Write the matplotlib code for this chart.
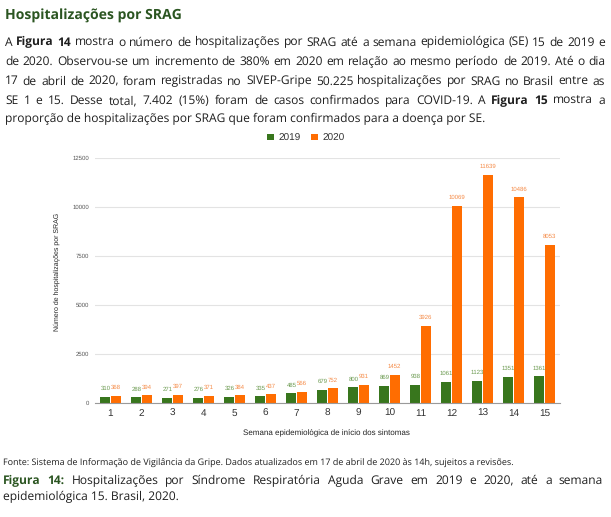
import numpy as np
import matplotlib
matplotlib.use("Agg")
import matplotlib.pyplot as plt

plt.rcParams["text.hinting"] = "no_hinting"
plt.rcParams["text.hinting_factor"] = 1

W, H = 611, 517

weeks = list(range(1, 16))
week_labels = [str(w) for w in weeks]
v2019 = [310, 288, 271, 276, 326, 335, 485, 679, 800, 869, 938, 1061, 1123, 1351, 1361]
v2020 = [368, 394, 397, 371, 384, 437, 566, 752, 931, 1452, 3926, 10069, 11639, 10486, 8053]
series_names = ["2019", "2020"]
yticks = [0, 2500, 5000, 7500, 10000, 12500]

title = "Hospitalizações por SRAG"
para = [
    [("A", 0), ("Figura", 1), ("14", 1), ("mostra", 0), ("o", 0), ("número", 0), ("de", 0), ("hospitalizações", 0), ("por", 0), ("SRAG", 0), ("até", 0), ("a", 0), ("semana", 0), ("epidemiológica", 0), ("(SE)", 0), ("15", 0), ("de", 0), ("2019", 0), ("e", 0)],
    [(w, 0) for w in "de 2020. Observou-se um incremento de 380% em 2020 em relação ao mesmo período de 2019. Até o dia".split()],
    [(w, 0) for w in "17 de abril de 2020, foram registradas no SIVEP-Gripe 50.225 hospitalizações por SRAG no Brasil entre as".split()],
    [(w, 0) for w in "SE 1 e 15. Desse total, 7.402 (15%) foram de casos confirmados para COVID-19. A".split()] + [("Figura", 1), ("15", 1), ("mostra", 0), ("a", 0)],
]
para_last = "proporção de hospitalizações por SRAG que foram confirmados para a doença por SE."
source = "Fonte: Sistema de Informação de Vigilância da Gripe. Dados atualizados em 17 de abril de 2020 às 14h, sujeitos a revisões."
caption_first = [("Figura", 1), ("14:", 1)] + [(w, 0) for w in "Hospitalizações por Síndrome Respiratória Aguda Grave em 2019 e 2020, até a semana".split()]
caption_last = "epidemiológica 15. Brasil, 2020."
ylabel = "Número de hospitalizações por SRAG"
xlabel = "Semana epidemiológica de início dos sintomas"

GREEN = "#38761d"
ORANGE = "#ff6d01"
TITLE_GREEN = "#2b5521"
TXT = "#1e1e1e"
FONT = "Open Sans"
CFONT = "Liberation Sans"

fig = plt.figure(figsize=(W / 100, H / 100), dpi=100)
fig.patch.set_facecolor("white")
renderer = fig.canvas.get_renderer()


def ink_width(s, size, weight="normal", family=FONT):
    t = fig.text(0, 0, s, fontsize=size, fontweight=weight, family=family)
    w = t.get_window_extent(renderer).width
    t.remove()
    return w


def adv_width(s, size, weight="normal", family=FONT):
    return ink_width("|" + s + "|", size, weight, family) - ink_width("||", size, weight, family)


def fit_size(s, target, weight="normal", family=FONT):
    return 10 * target / adv_width(s, 10, weight, family)


def draw_justified(tokens, x0, x1, y, size, bold_color=TXT, color=TXT, family=FONT):
    widths = [adv_width(w, size, "bold" if b else "normal", family) for w, b in tokens]
    gap = (x1 - x0 - sum(widths)) / (len(tokens) - 1)
    x = x0
    for (w, b), wd in zip(tokens, widths):
        fig.text(x / W, 1 - y / H, w, fontsize=size, family=family,
                 fontweight="bold" if b else "normal",
                 color=bold_color if b else color, va="baseline", ha="left")
        x += wd + gap


# Title
ts = fit_size(title, 183, "bold")
fig.text(5 / W, 1 - 19.5 / H, title, fontsize=ts, fontweight="bold", color=TITLE_GREEN,
         family=FONT, va="baseline", ha="left")

# Paragraph
ps = fit_size(para_last, 482)
baselines = [45.5, 65, 84.5, 104, 122.5]
for line, yb in zip(para, baselines[:4]):
    draw_justified(line, 5, 605, yb, ps)
fig.text(5 / W, 1 - baselines[4] / H, para_last, fontsize=ps, family=FONT, color=TXT,
         va="baseline", ha="left")

# Chart
ax = fig.add_axes([95 / W, 1 - 403 / H, 465 / W, 245 / H])
x = np.arange(1, 16)
bw = 0.32
b1 = ax.bar(x - 0.165, v2019, bw, color=GREEN, label=series_names[0], zorder=3)
b2 = ax.bar(x + 0.165, v2020, bw, color=ORANGE, label=series_names[1], zorder=3)
for xi, v in zip(x, v2019):
    ax.annotate(str(v), (xi - 0.165, v), xytext=(0, 4), textcoords="offset points",
                ha="center", va="bottom", fontsize=4.0, color="#6b9a50", family=CFONT)
for xi, v in zip(x, v2020):
    ax.annotate(str(v), (xi + 0.165, v), xytext=(0, 4), textcoords="offset points",
                ha="center", va="bottom", fontsize=4.0, color="#f58a46", family=CFONT)

ax.set_xlim(0.5, 15.5)
ax.set_ylim(0, 12500)
ax.set_yticks(yticks)
ax.set_yticklabels([str(t) for t in yticks], fontsize=4.5, color="#555555", family=CFONT)
ax.set_xticks(x)
ax.set_xticklabels(week_labels, fontsize=7, color="#333333", family=CFONT)
ax.tick_params(axis="both", length=0)
ax.tick_params(axis="y", pad=4)
ax.tick_params(axis="x", pad=4)
ax.grid(axis="y", color="#e3e3e3", linewidth=0.8, zorder=0)
for s in ["top", "right", "left"]:
    ax.spines[s].set_visible(False)
ax.spines["bottom"].set_color("#9a9a9a")
ax.spines["bottom"].set_linewidth(0.8)
ax.spines["bottom"].set_zorder(4)

yls = fit_size(ylabel, 120, family=CFONT)
fig.text(57 / W, 1 - 272 / H, ylabel, fontsize=yls, rotation=90, color="#222222",
         family=CFONT, ha="center", va="center")
xls = fit_size(xlabel, 178, family=CFONT)
fig.text(326 / W, 1 - 433 / H, xlabel, fontsize=xls,
         color="#222222", family=CFONT, ha="center", va="center")

leg = fig.legend(handles=[b1, b2], labels=series_names, loc="center",
                 bbox_to_anchor=(306 / W, 1 - 138 / H), ncol=2, frameon=False,
                 prop={"family": CFONT, "size": 7},
                 handlelength=0.65, handleheight=0.65, handletextpad=0.5, columnspacing=1.1)
for t in leg.get_texts():
    t.set_color("#333333")

# Source and caption
ss = fit_size(source, 500)
fig.text(3 / W, 1 - 466 / H, source, fontsize=ss, color=TXT, family=FONT, va="baseline", ha="left")
cs = fit_size(caption_last, 177)
draw_justified(caption_first, 3, 603, 484, cs, bold_color=TITLE_GREEN)
fig.text(3 / W, 1 - 500.5 / H, caption_last, fontsize=cs, family=FONT, color=TXT,
         va="baseline", ha="left")

fig.savefig("out.png", dpi=100, facecolor="white")
